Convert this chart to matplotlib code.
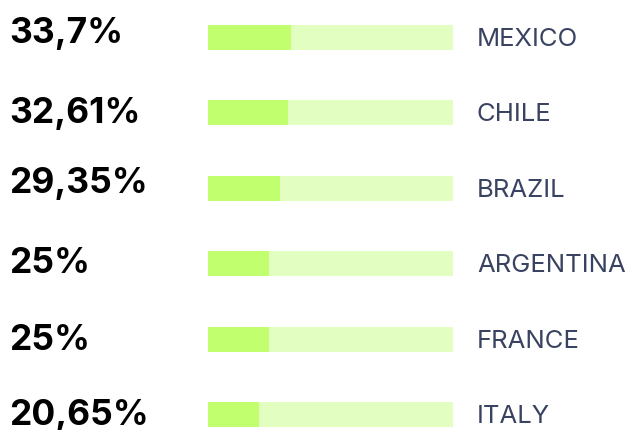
import matplotlib
matplotlib.use("Agg")
from matplotlib import pyplot as plt
from matplotlib import transforms
import numpy as np

countries = ["MEXICO", "CHILE", "BRAZIL", "ARGENTINA", "FRANCE", "ITALY"]
shares = [33.7, 32.61, 29.35, 25, 25, 20.65]
track_max = 100

# small vertical nudges of the big numbers (pixels, upward)
pct_lift = [7.5, 2.0, 8.0, 3.0, 1.5, 2.5]

FILL = "#c2ff6f"
TRACK = "#e3fec1"
LABEL = "#394361"

W, H = 631, 430
row_top = 37.5      # centre of first row, px from top
row_step = 75.4     # px between rows

fig = plt.figure(figsize=(W / 100, H / 100), dpi=100)
fig.patch.set_facecolor("white")
ax = fig.add_axes([208 / W, 0, 245 / W, 1])
ax.set_xlim(0, track_max)
ax.set_ylim((H - row_top) / row_step, -row_top / row_step)
ax.axis("off")

y = np.arange(len(countries))
bar_h = 25 / row_step
ax.barh(y, [track_max] * len(y), height=bar_h, color=TRACK, left=0)
ax.barh(y, shares, height=bar_h, color=FILL, left=0)

trans = transforms.blended_transform_factory(ax.transAxes, ax.transData)
x_pct = (9 - 208) / 245
x_lab = (477 - 208) / 245

for i, (c, v) in enumerate(zip(countries, shares)):
    txt = f"{v:g}".replace(".", ",") + "%"
    ax.text(x_pct, i - (pct_lift[i] - 3) / row_step, txt, transform=trans,
            ha="left", va="center", fontsize=25.5, fontweight="bold",
            family=["Inter", "DejaVu Sans"], color="black")
    ax.text(x_lab, i + 2 / row_step, c, transform=trans, ha="left", va="center",
            fontsize=18.5, family=["Inter", "DejaVu Sans"], color=LABEL)

fig.savefig("out.png", dpi=100, facecolor="white")
